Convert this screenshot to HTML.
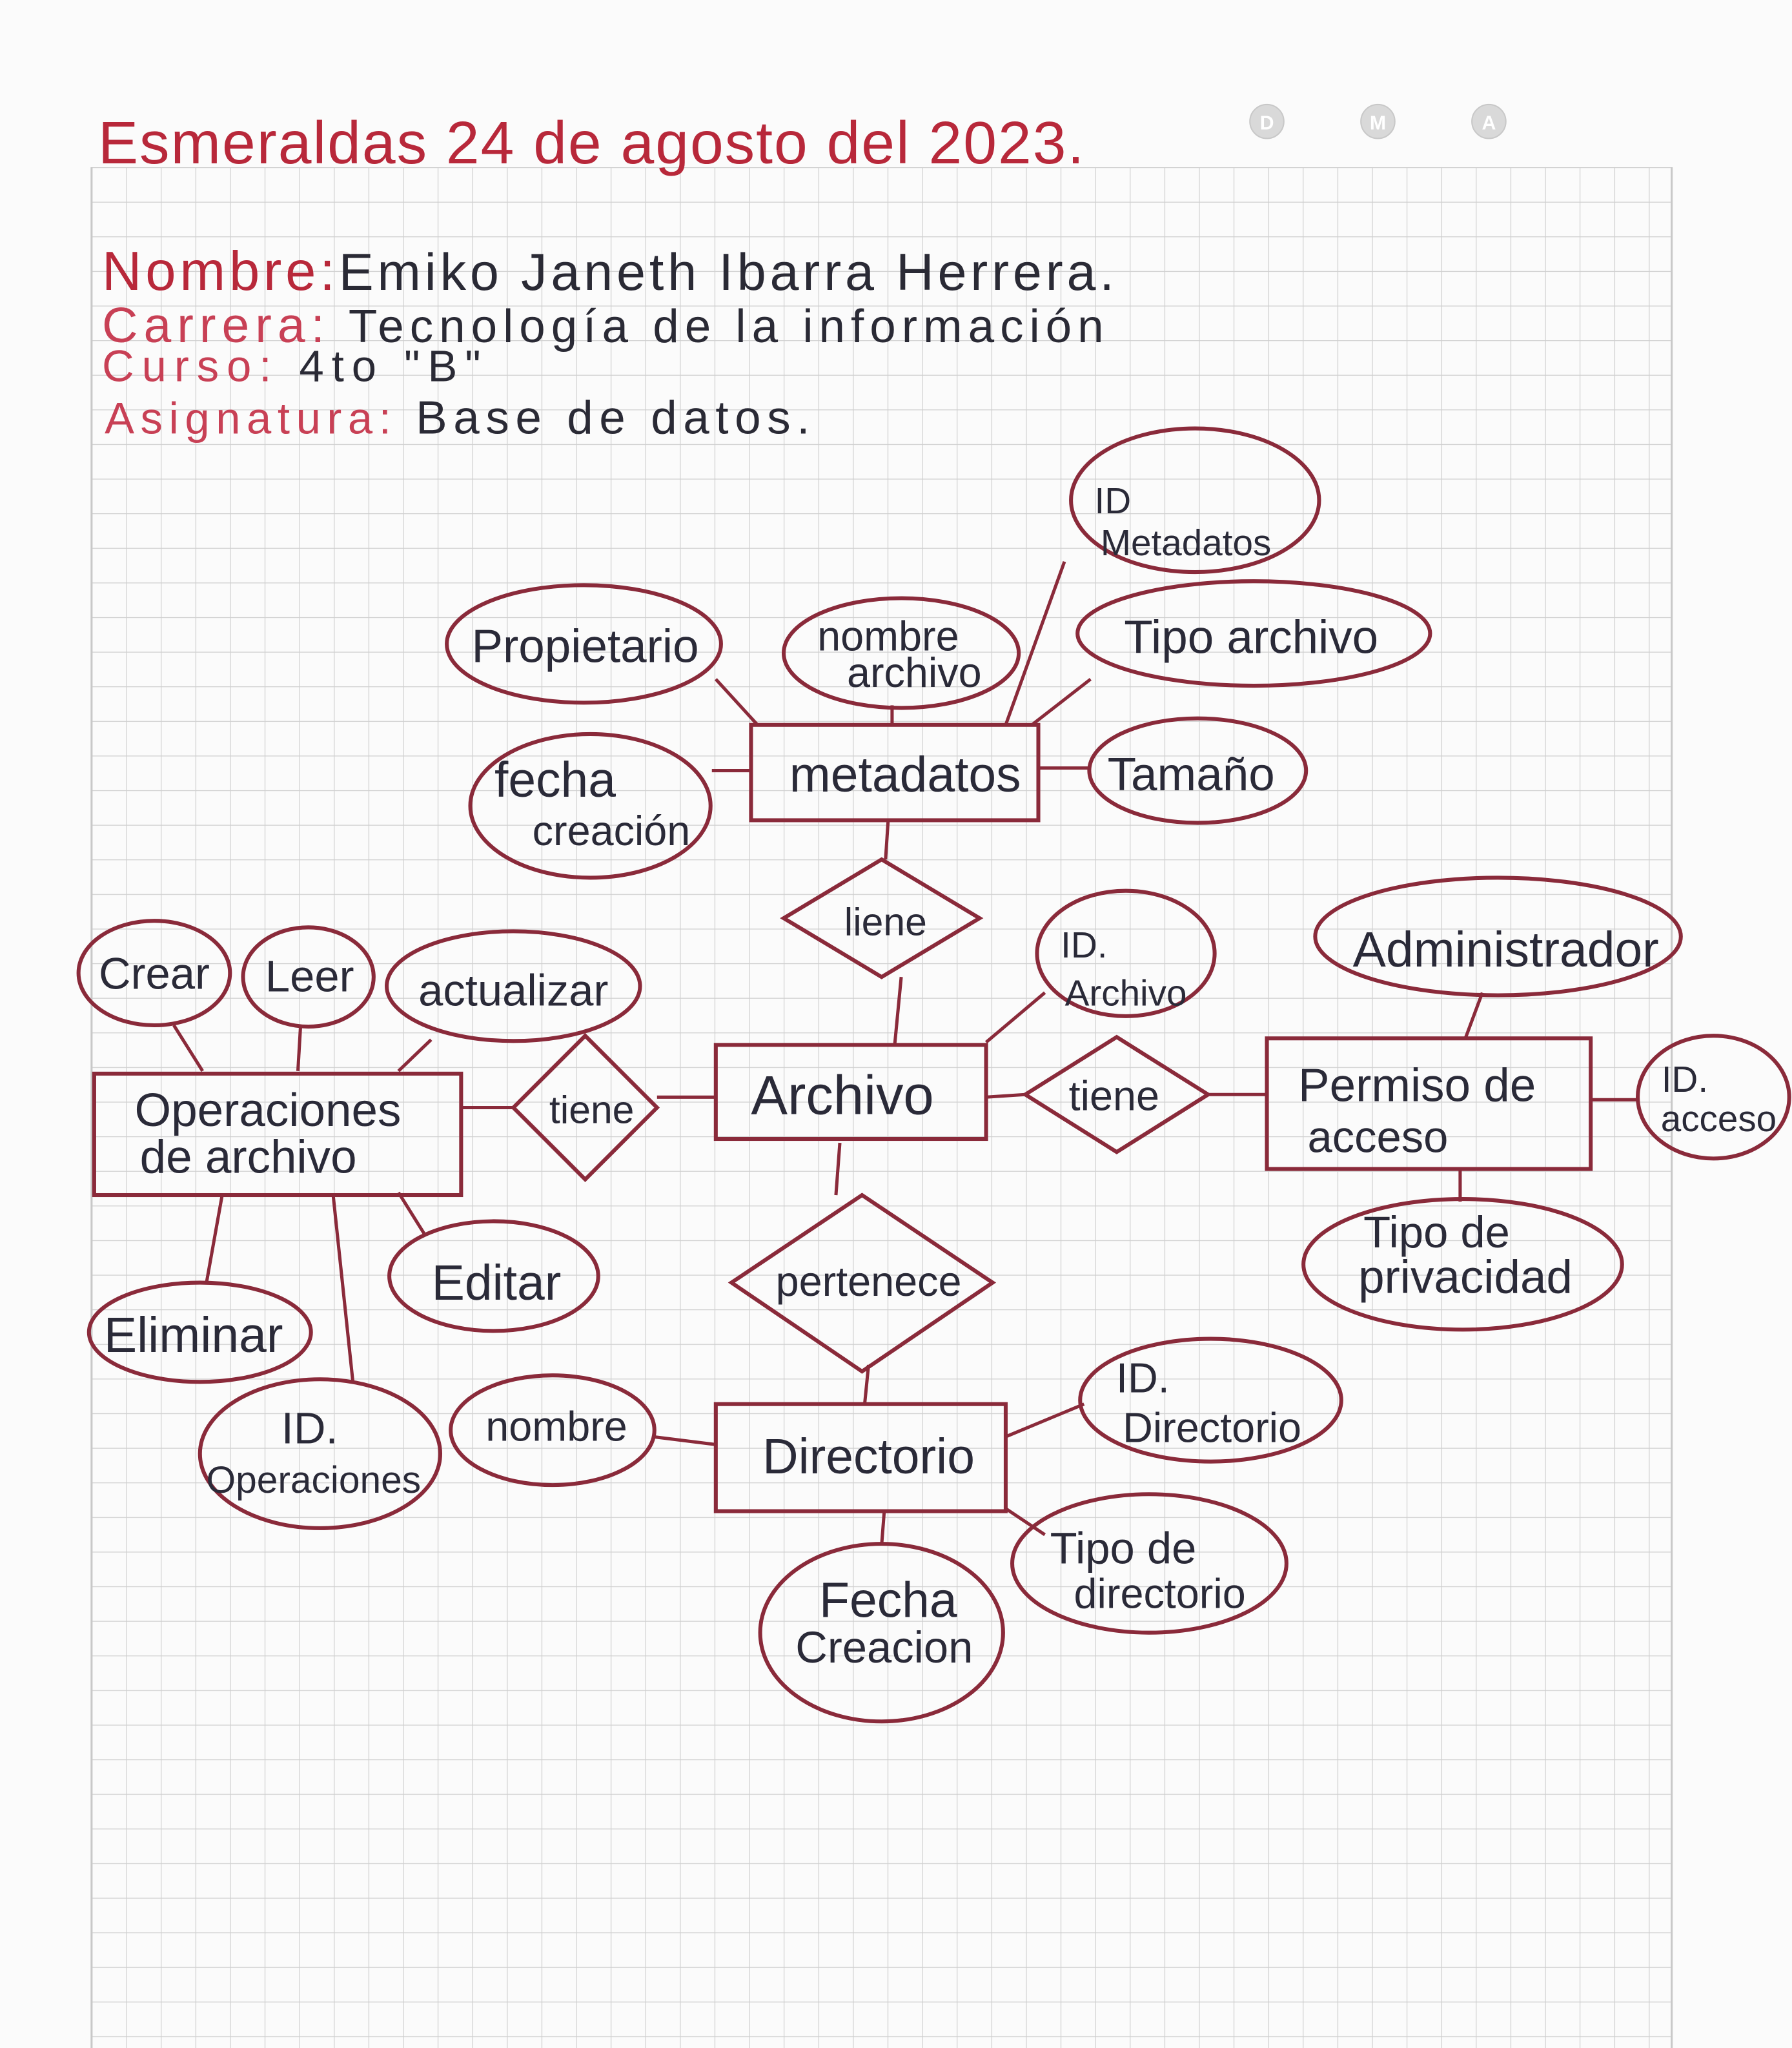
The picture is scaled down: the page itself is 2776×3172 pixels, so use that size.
<!DOCTYPE html>
<html><head><meta charset="utf-8"><style>
html,body{margin:0;padding:0;background:#fbfbfb;}
svg{display:block;}
text{font-family:"Liberation Sans",sans-serif;}
</style></head><body>
<svg width="2776" height="3172" viewBox="0 0 1372 1568" xmlns="http://www.w3.org/2000/svg">
<defs>
<pattern id="g" x="70" y="128" width="26.5" height="26.5" patternUnits="userSpaceOnUse">
<path d="M0 0H26.5M0 0V26.5" stroke="#cfcfcf" stroke-width="1.2" fill="none"/>
</pattern>
</defs>
<rect width="1372" height="1568" fill="#fbfbfb"/>
<rect x="70" y="128" width="1210" height="1440" fill="url(#g)"/>
<line x1="70" y1="128" x2="70" y2="1568" stroke="#c8c8c8" stroke-width="1.5"/>
<line x1="1280" y1="128" x2="1280" y2="1568" stroke="#c8c8c8" stroke-width="1.5"/>

<!-- header -->
<g fill="#d9d9d9" stroke="#c8c8c8"><circle cx="970" cy="93" r="13"/><circle cx="1055" cy="93" r="13"/><circle cx="1140" cy="93" r="13"/></g>
<g font-size="15" fill="#fff" text-anchor="middle" font-weight="bold"><text x="970" y="99">D</text><text x="1055" y="99">M</text><text x="1140" y="99">A</text></g>
<text x="75" y="125" font-size="46" fill="#b8283a" textLength="755" lengthAdjust="spacing">Esmeraldas 24 de agosto del 2023.</text>
<text x="78" y="222" font-size="42" fill="#b8283a" textLength="775" lengthAdjust="spacing">Nombre:<tspan fill="#2a2a35" font-size="40">Emiko Janeth Ibarra Herrera.</tspan></text>
<text x="78" y="262" font-size="38" fill="#c84055" textLength="767" lengthAdjust="spacing">Carrera:<tspan fill="#2a2a35" font-size="36"> Tecnología de la información</tspan></text>
<text x="78" y="292" font-size="34" fill="#c84055" textLength="290" lengthAdjust="spacing">Curso: <tspan fill="#2a2a35">4to "B"</tspan></text>
<text x="80" y="332" font-size="34" fill="#c84055" textLength="540" lengthAdjust="spacing">Asignatura: <tspan fill="#2a2a35" font-size="36">Base de datos.</tspan></text>

<!-- connectors -->
<g stroke="#8a2a3a" stroke-width="2.5" fill="none">
<line x1="548" y1="520" x2="580" y2="555"/>
<line x1="683" y1="540" x2="683" y2="555"/>
<line x1="815" y1="430" x2="770" y2="555"/>
<line x1="835" y1="520" x2="790" y2="555"/>
<line x1="545" y1="590" x2="575" y2="590"/>
<line x1="795" y1="588" x2="835" y2="588"/>
<line x1="680" y1="628" x2="678" y2="658"/>
<line x1="690" y1="748" x2="685" y2="800"/>
<line x1="755" y1="798" x2="800" y2="760"/>
<line x1="755" y1="840" x2="785" y2="838"/>
<line x1="925" y1="838" x2="970" y2="838"/>
<line x1="1135" y1="760" x2="1122" y2="795"/>
<line x1="1218" y1="842" x2="1255" y2="842"/>
<line x1="1118" y1="895" x2="1118" y2="920"/>
<line x1="353" y1="848" x2="393" y2="848"/>
<line x1="503" y1="840" x2="548" y2="840"/>
<line x1="133" y1="785" x2="155" y2="820"/>
<line x1="230" y1="786" x2="228" y2="820"/>
<line x1="330" y1="796" x2="305" y2="820"/>
<line x1="305" y1="913" x2="325" y2="945"/>
<line x1="170" y1="915" x2="158" y2="982"/>
<line x1="255" y1="915" x2="270" y2="1057"/>
<line x1="643" y1="875" x2="640" y2="915"/>
<line x1="665" y1="1045" x2="662" y2="1075"/>
<line x1="500" y1="1100" x2="548" y2="1106"/>
<line x1="770" y1="1100" x2="830" y2="1075"/>
<line x1="770" y1="1155" x2="800" y2="1175"/>
<line x1="677" y1="1157" x2="675" y2="1183"/>
</g>

<!-- entities -->
<g stroke="#8a2a3a" stroke-width="3" fill="none">
<rect x="575" y="555" width="220" height="73"/>
<rect x="548" y="800" width="207" height="72"/>
<rect x="72" y="822" width="281" height="93"/>
<rect x="970" y="795" width="248" height="100"/>
<rect x="548" y="1075" width="222" height="82"/>
<polygon points="675,658 750,703 675,748 600,703"/>
<polygon points="448,793 503,848 448,903 393,848"/>
<polygon points="855,794 925,838 855,882 785,838"/>
<polygon points="660,915 760,982 660,1050 560,982"/>
<ellipse cx="447" cy="493" rx="105" ry="45"/>
<ellipse cx="690" cy="500" rx="90" ry="42"/>
<ellipse cx="915" cy="383" rx="95" ry="55"/>
<ellipse cx="960" cy="485" rx="135" ry="40"/>
<ellipse cx="452" cy="617" rx="92" ry="55"/>
<ellipse cx="917" cy="590" rx="83" ry="40"/>
<ellipse cx="118" cy="745" rx="58" ry="40"/>
<ellipse cx="236" cy="748" rx="50" ry="38"/>
<ellipse cx="393" cy="755" rx="97" ry="42"/>
<ellipse cx="862" cy="730" rx="68" ry="48"/>
<ellipse cx="1147" cy="717" rx="140" ry="45"/>
<ellipse cx="1312" cy="840" rx="58" ry="47"/>
<ellipse cx="1120" cy="968" rx="122" ry="50"/>
<ellipse cx="378" cy="977" rx="80" ry="42"/>
<ellipse cx="153" cy="1020" rx="85" ry="38"/>
<ellipse cx="245" cy="1113" rx="92" ry="57"/>
<ellipse cx="423" cy="1095" rx="78" ry="42"/>
<ellipse cx="927" cy="1072" rx="100" ry="47"/>
<ellipse cx="880" cy="1197" rx="105" ry="53"/>
<ellipse cx="675" cy="1250" rx="93" ry="68"/>
</g>

<!-- labels -->
<g fill="#2a2a38" text-anchor="middle">
<text x="693" y="606" font-size="38">metadatos</text>
<text x="645" y="853" font-size="42">Archivo</text>
<text x="205" y="862" font-size="36">Operaciones</text>
<text x="190" y="898" font-size="36">de archivo</text>
<text x="1085" y="843" font-size="36">Permiso de</text>
<text x="1055" y="882" font-size="34">acceso</text>
<text x="665" y="1128" font-size="38">Directorio</text>
<text x="678" y="716" font-size="30">liene</text>
<text x="453" y="860" font-size="30">tiene</text>
<text x="853" y="850" font-size="32">tiene</text>
<text x="665" y="992" font-size="32">pertenece</text>
<text x="448" y="507" font-size="36">Propietario</text>
<text x="680" y="498" font-size="32">nombre</text>
<text x="700" y="526" font-size="32">archivo</text>
<text x="852" y="393" font-size="28">ID</text>
<text x="908" y="425" font-size="28">Metadatos</text>
<text x="958" y="500" font-size="36">Tipo archivo</text>
<text x="425" y="610" font-size="38">fecha</text>
<text x="468" y="647" font-size="32">creación</text>
<text x="912" y="605" font-size="36">Tamaño</text>
<text x="118" y="757" font-size="34">Crear</text>
<text x="237" y="759" font-size="34">Leer</text>
<text x="393" y="770" font-size="34">actualizar</text>
<text x="830" y="733" font-size="28">ID.</text>
<text x="862" y="770" font-size="28">Archivo</text>
<text x="1153" y="740" font-size="38">Administrador</text>
<text x="1290" y="836" font-size="28">ID.</text>
<text x="1316" y="866" font-size="28">acceso</text>
<text x="1100" y="955" font-size="34">Tipo de</text>
<text x="1122" y="990" font-size="36">privacidad</text>
<text x="380" y="995" font-size="38">Editar</text>
<text x="148" y="1035" font-size="38">Eliminar</text>
<text x="237" y="1105" font-size="34">ID.</text>
<text x="240" y="1143" font-size="29">Operaciones</text>
<text x="426" y="1103" font-size="32">nombre</text>
<text x="875" y="1066" font-size="32">ID.</text>
<text x="928" y="1104" font-size="32">Directorio</text>
<text x="860" y="1197" font-size="34">Tipo de</text>
<text x="888" y="1231" font-size="32">directorio</text>
<text x="680" y="1238" font-size="38">Fecha</text>
<text x="677" y="1273" font-size="34">Creacion</text>
</g>
</svg>
</body></html>
